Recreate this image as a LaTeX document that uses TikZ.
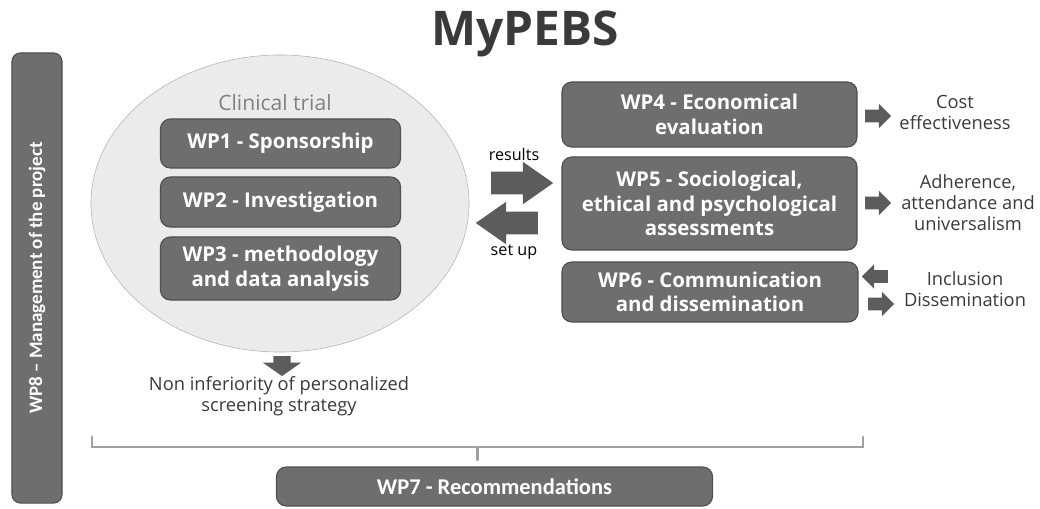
\documentclass[tikz,border=0pt]{standalone}
\usepackage{fontspec}
\setmainfont{Open Sans}
\newfontfamily\calib[Ligatures=TeX]{Carlito}
\usetikzlibrary{shapes.geometric,shapes.arrows}

\definecolor{boxgray}{HTML}{6E6E6E}
\definecolor{edgegray}{HTML}{505050}
\definecolor{trialgray}{HTML}{EBEBEB}
\definecolor{ringgray}{HTML}{B4B4B4}
\definecolor{arrowgray}{HTML}{5C5C5C}
\definecolor{textgray}{HTML}{3A3A3A}
\definecolor{bracketgray}{HTML}{A0A0A0}

\tikzset{
  wpbox/.style={draw=edgegray, fill=boxgray, line width=0.8pt, rounded corners=7pt,
    text=white, align=center, inner sep=2pt, font=\bfseries\fontsize{14.5}{17.5}\selectfont},
  sidetext/.style={text=textgray, align=center, font=\fontsize{13}{14.8}\selectfont},
  bigarrow/.style={single arrow, fill=arrowgray, inner xsep=0pt, inner ysep=0.28cm, minimum height=1.55cm,
    minimum width=1.05cm, single arrow head extend=0.245cm, single arrow tip angle=70},
  smallarrow/.style={single arrow, fill=arrowgray, inner xsep=0pt, inner ysep=0.15cm, minimum height=0.65cm,
    minimum width=0.6cm, single arrow head extend=0.15cm},
  bracket/.style={draw=bracketgray, line width=2pt, line cap=round}
}

\begin{document}
\begin{tikzpicture}[x=0.025cm,y=-0.025cm]
%\draw[step=40,gray,very thin] (0,0) grid (1040,508); %pixel grid
\useasboundingbox (0,0) rectangle (1040,508);

\node[anchor=base, text=textgray, font=\bfseries\fontsize{34}{38}\selectfont] (title) at (525,45) {MyPEBS};

\node[wpbox, rotate=90, minimum width=11.25cm, minimum height=1.25cm, rounded corners=6pt,
  font=\calib\bfseries\fontsize{13.5}{16}\selectfont] (wp8) at (37,278) {WP8 – Management of the project};

% clinical trial
\node[ellipse, draw=ringgray, fill=trialgray, inner sep=0pt, minimum width=9.45cm, minimum height=7.425cm] (trial) at (280,203.5) {};
\node[text=gray, font=\fontsize{15}{18}\selectfont] (trialname) at (275,103) {Clinical trial};

\node[wpbox, minimum width=6cm, minimum height=1.225cm] (wp1) at (280.5,143.5) {WP1 - Sponsorship};
\node[wpbox, minimum width=6cm, minimum height=1.25cm] (wp2) at (280.5,202) {WP2 - Investigation};
\node[wpbox, minimum width=6cm, minimum height=1.575cm] (wp3) at (280.5,268.5) {WP3 - methodology\\and data analysis};

\node[single arrow, fill=arrowgray, inner xsep=0pt, inner ysep=0.21cm, minimum height=0.5cm, minimum width=0.95cm,
  single arrow head extend=0.265cm, single arrow tip angle=110, rotate=-90] (down) at (282,363) {};
\node[sidetext] (noninf) at (279,396) {Non inferiority of personalized\\screening strategy};

% results / set up
\node[text=black, font=\fontsize{11.5}{14}\selectfont] (results) at (514,154) {results};
\node[bigarrow] (resarrow) at (514,183) {};
\node[bigarrow, shape border rotate=180] (setarrow) at (515,223) {};
\node[text=black, font=\fontsize{11.5}{14}\selectfont] (setup) at (514,252) {set up};

\node[wpbox, minimum width=7.375cm, minimum height=1.625cm] (wp4) at (709.5,114.5) {WP4 - Economical\\evaluation};
\node[wpbox, minimum width=7.375cm, minimum height=2.325cm] (wp5) at (709.5,203.5) {WP5 - Sociological,\\ethical and psychological\\assessments};
\node[wpbox, minimum width=7.4cm, minimum height=1.5cm] (wp6) at (710,292) {WP6 - Communication\\and dissemination};

\node[smallarrow] (costarrow) at (875,116) {};
\node[smallarrow] (adherarrow) at (875,203) {};
\node[smallarrow, shape border rotate=180] (inclarrow) at (878,276.5) {};
\node[smallarrow] (dissarrow) at (878,304) {};

\node[sidetext] (cost) at (955,112.5) {Cost\\effectiveness};
\node[sidetext] (adher) at (968,202.5) {Adherence,\\attendance and\\universalism};
\node[sidetext] (incl) at (965,289) {Inclusion\\Dissemination};

% bracket down to WP7
\coordinate (bl) at (92,437);
\coordinate (br) at (863,437);
\coordinate (bmid) at (477.5,447);
\coordinate (bstem) at (477.5,460);
\draw[bracket] (bl) |- (bmid) -| (br);
\draw[bracket] (bmid) -- (bstem);

\node[wpbox, minimum width=10.9cm, minimum height=0.975cm, font=\calib\bfseries\fontsize{16}{19}\selectfont] (wp7) at (494.5,486.5) {WP7 - Recommendations};

\end{tikzpicture}
\end{document}
